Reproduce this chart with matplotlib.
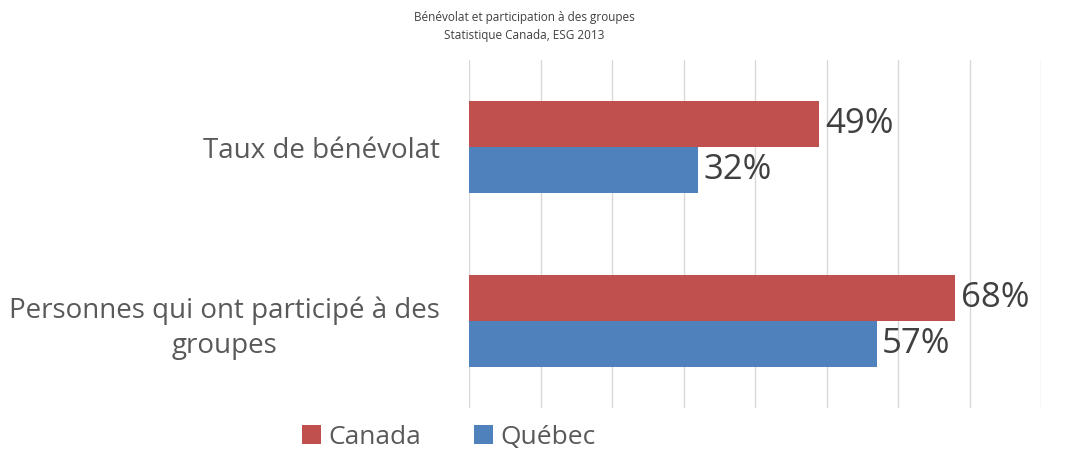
"""Bénévolat et participation — horizontal grouped bars."""

import matplotlib

matplotlib.use("Agg")
import matplotlib.pyplot as plt  # noqa: E402
from matplotlib.patches import Patch  # noqa: E402

plt.rcParams["font.family"] = ["Open Sans", "DejaVu Sans"]

categories = ["Taux de bénévolat", "Personnes qui ont participé à des\ngroupes"]
series_names = ["Canada", "Québec"]
canada = [49, 68]
quebec = [32, 57]
x_ticks = [0, 10, 20, 30, 40, 50, 60, 70, 80]

RED = "#C0504D"
BLUE = "#4F81BD"
GRID = "#D9D9D9"

fig = plt.figure(figsize=(10.7, 4.51), dpi=100)
ax = fig.add_axes([469 / 1070, 1 - 408 / 451, (1041 - 469) / 1070, (408 - 60) / 451])

bar_h = 46 / 174
ypos = list(range(len(categories)))
for values, color, offset in ((canada, RED, -bar_h / 2), (quebec, BLUE, bar_h / 2)):
    ys = [y + offset for y in ypos]
    ax.barh(ys, values, height=bar_h, color=color, zorder=2)
    for y, v in zip(ys, values):
        ax.annotate(
            f"{v}%",
            (v, y),
            textcoords="offset points",
            xytext=(4, 0),
            va="center",
            ha="left",
            fontsize=25,
            color="#404040",
        )

ax.set_xlim(x_ticks[0], x_ticks[-1])
ax.set_ylim(len(categories) - 0.5, -0.5)
ax.set_xticks(x_ticks)
ax.xaxis.grid(True, color=GRID, linewidth=1, zorder=0)
ax.tick_params(axis="x", length=0, labelbottom=False)
ax.set_yticks(ypos)
ax.set_yticklabels(categories, fontsize=20, color="#595959")
for lab in ax.get_yticklabels():
    lab.set_multialignment("center")
    lab.set_linespacing(1.35)
ax.tick_params(axis="y", length=0, pad=21)
for spine in ax.spines.values():
    spine.set_visible(False)

fig.text(0.49, 1 - 26 / 451, "Bénévolat et participation à des groupes\nStatistique Canada, ESG 2013",
         ha="center", va="center", fontsize=8.5, color="#404040", linespacing=1.5)

handles = [Patch(facecolor=RED), Patch(facecolor=BLUE)]
fig.legend(
    handles,
    series_names,
    loc="center",
    bbox_to_anchor=(449 / 1070, 1 - 437 / 451),
    ncol=2,
    frameon=False,
    fontsize=19,
    labelcolor="#595959",
    handlelength=0.7,
    handleheight=0.7,
    handletextpad=0.3,
    columnspacing=2.0,
)

fig.savefig("out.png", dpi=100)
